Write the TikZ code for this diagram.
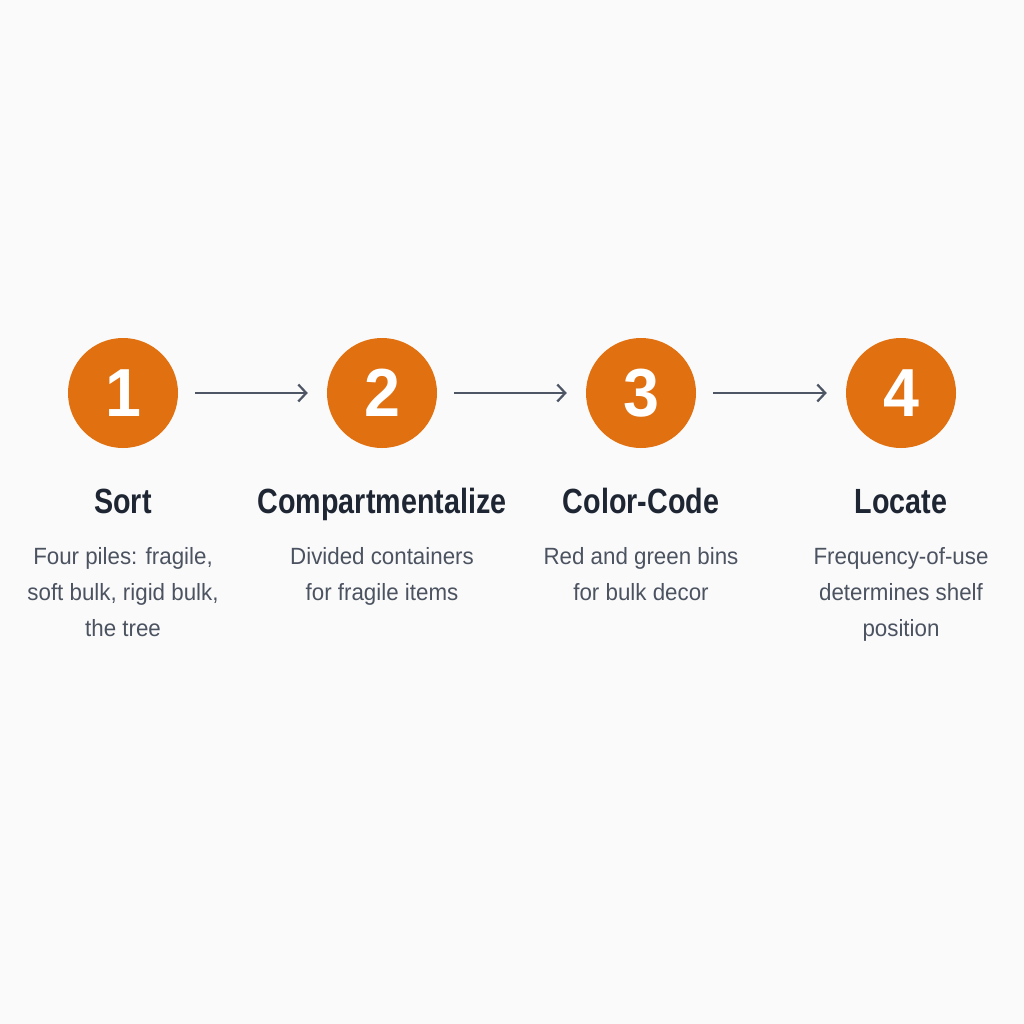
\documentclass[tikz,border=0pt]{standalone}
\usepackage{fontspec}
\setmainfont{Liberation Sans}
\newfontfamily\titlefont[FakeStretch=0.82]{Liberation Sans}
\newfontfamily\descfont[FakeStretch=0.95]{Liberation Sans}
\newfontfamily\numfont[FakeStretch=0.95]{Liberation Sans}
\usetikzlibrary{arrows.meta}
\definecolor{orng}{HTML}{E07010}
\definecolor{navy}{HTML}{1F2633}
\definecolor{gry}{HTML}{4B5260}
\definecolor{arrgray}{HTML}{4E5665}
\definecolor{bg}{HTML}{FAFAFA}
\tikzset{
  numcirc/.style={circle, fill=orng, minimum size=110pt, inner sep=0pt,
    text=white, font=\numfont\bfseries\fontsize{68}{68}\selectfont},
  steptitle/.style={anchor=base, inner sep=0pt, text=navy,
    font=\titlefont\bfseries\fontsize{35}{40}\selectfont},
  stepdesc/.style={anchor=north, inner sep=0pt, text=gry, align=center,
    font=\descfont\fontsize{23.5}{36}\selectfont},
  flow/.style={draw=arrgray, line width=2.2pt,
    -{Straight Barb[length=8pt,width=17pt,line width=2.2pt]},
    shorten <=17pt, shorten >=19pt}
}
\begin{document}
\begin{tikzpicture}[x=1pt,y=-1pt]
\fill[bg] (0,0) rectangle (1024,1024);
\useasboundingbox (0,0) rectangle (1024,1024);
\node[numcirc] (c1) at (123,393) {1};
\node[numcirc] (c2) at (382,393) {2};
\node[numcirc] (c3) at (641,393) {3};
\node[numcirc] (c4) at (901,393) {4};
\draw[flow] (c1) -- (c2);
\draw[flow] (c2) -- (c3);
\draw[flow] (c3) -- (c4);
\node[steptitle] (t1) at (123,513) {Sort};
\node[steptitle] (t2) at (382,513) {Compartmentalize};
\node[steptitle] (t3) at (641,513) {Color-Code};
\node[steptitle] (t4) at (901,513) {Locate};
\node[stepdesc] (d1) at (123,547.5) {Four piles: fragile,\\soft bulk, rigid bulk,\\the tree};
\node[stepdesc] (d2) at (382,547.5) {Divided containers\\for fragile items};
\node[stepdesc] (d3) at (641,547.5) {Red and green bins\\for bulk decor};
\node[stepdesc] (d4) at (901,547.5) {Frequency-of-use\\determines shelf\\position};
\end{tikzpicture}
\end{document}
